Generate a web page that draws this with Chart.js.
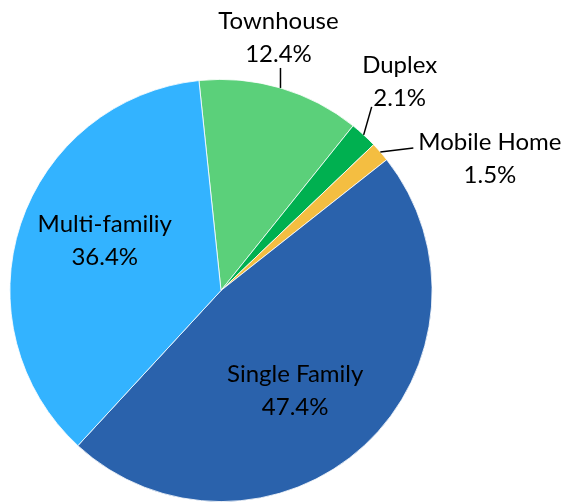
<!DOCTYPE html>
<html>
<head>
<meta charset="utf-8">
<script src="https://cdn.jsdelivr.net/npm/chart.js@4"></script>
<style>
  html, body { margin: 0; padding: 0; background: #fff; }
  #wrap { width: 566px; height: 502px; }
</style>
</head>
<body>
<div id="wrap"><canvas id="pie" width="566" height="502"></canvas></div>
<script>
// data
const categories = ['Townhouse', 'Duplex', 'Mobile Home', 'Single Family', 'Multi-familiy'];
const shares = [12.4, 2.1, 1.5, 47.4, 36.4];
const colors = ['#5BD07A', '#00B050', '#F4BE41', '#2A62AC', '#33B3FF'];

// how each label sits: inside at a radius fraction, or outside with a leader line
const labelLayout = [
  { outside: true, lead: [0, -20], align: 'center', text: [-2, -34] },
  { outside: true, lead: [8, -28], align: 'center', text: [36, -37] },
  { outside: true, lead: [33, -4], align: 'left', text: [38, -10] },
  { outside: false, r: 0.58, shift: [-9, 10] },
  { outside: false, r: 0.6, shift: [4, -10] },
];

const FONT = '24px Lato, "Open Sans", sans-serif';
const LINE = 33;

const pieLabels = {
  id: 'pieLabels',
  afterDatasetsDraw(chart) {
    const ctx = chart.ctx;
    const meta = chart.getDatasetMeta(0);
    ctx.save();
    ctx.font = FONT;
    ctx.fillStyle = '#000';
    ctx.strokeStyle = '#000';
    ctx.lineWidth = 1.5;
    ctx.textBaseline = 'middle';
    meta.data.forEach((arc, i) => {
      const { x, y, startAngle, endAngle, outerRadius } = arc.getProps(['x', 'y', 'startAngle', 'endAngle', 'outerRadius'], true);
      const mid = (startAngle + endAngle) / 2;
      const lay = labelLayout[i];
      const lines = [categories[i], shares[i].toFixed(1) + '%'];
      let tx, ty;
      if (lay.outside) {
        const ex = x + Math.cos(mid) * outerRadius;
        const ey = y + Math.sin(mid) * outerRadius;
        ctx.beginPath();
        ctx.moveTo(ex, ey);
        ctx.lineTo(ex + lay.lead[0], ey + lay.lead[1]);
        ctx.stroke();
        tx = ex + lay.text[0];
        ty = ey + lay.text[1];
        ctx.textAlign = lay.align;
        if (lay.align === 'left') {
          // first line left-aligned, second centred under the first
          const w = ctx.measureText(lines[0]).width;
          ctx.fillText(lines[0], tx, ty);
          ctx.textAlign = 'center';
          ctx.fillText(lines[1], tx + w / 2, ty + LINE);
        } else {
          ctx.fillText(lines[0], tx, ty - LINE);
          ctx.fillText(lines[1], tx, ty);
        }
      } else {
        tx = x + Math.cos(mid) * outerRadius * lay.r + lay.shift[0];
        ty = y + Math.sin(mid) * outerRadius * lay.r + lay.shift[1];
        ctx.textAlign = 'center';
        ctx.fillText(lines[0], tx, ty - LINE / 2);
        ctx.fillText(lines[1], tx, ty + LINE / 2);
      }
    });
    ctx.restore();
  }
};

new Chart(document.getElementById('pie'), {
  type: 'pie',
  data: {
    labels: categories,
    datasets: [{
      data: shares,
      backgroundColor: colors,
      borderColor: '#ffffff',
      borderWidth: 0.8,
    }],
  },
  options: {
    responsive: false,
    animation: false,
    rotation: -6,
    layout: { padding: { left: 8, right: 132, top: 79, bottom: -5 } },
    plugins: {
      legend: { display: false },
      tooltip: { enabled: false },
    },
  },
  plugins: [pieLabels],
});
</script>
</body>
</html>
